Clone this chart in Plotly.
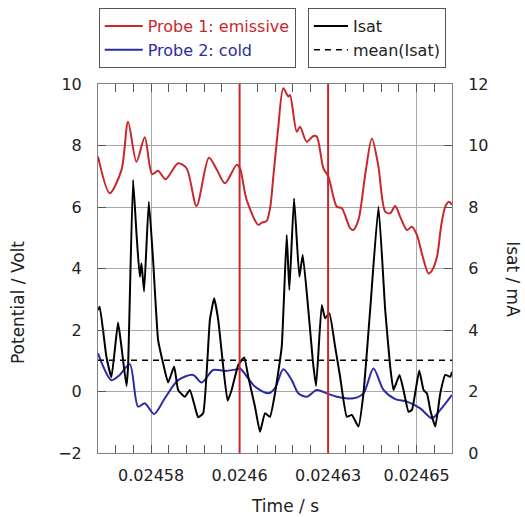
import plotly.graph_objects as go

# ---- data ----
t_red = [0.0245600, 0.02456331, 0.02456662, 0.02456849, 0.02457087, 0.02457321, 0.02457528,
         0.02457698, 0.02457907, 0.02458264, 0.02458501, 0.02458784, 0.02459132, 0.0245935,
         0.02459585, 0.02459916, 0.0246001, 0.02460199, 0.02460527, 0.02460624, 0.02460765,
         0.02460866, 0.02460952, 0.02461085, 0.02461235, 0.02461376, 0.02461424, 0.02461614,
         0.02461707, 0.02461897, 0.02462084, 0.0246218, 0.02462367, 0.02462508, 0.02462746,
         0.02462887, 0.02463122, 0.02463207, 0.02463357, 0.02463547, 0.02463736, 0.02463915,
         0.02464113, 0.02464254, 0.02464396, 0.02464537, 0.02464727, 0.02464868, 0.0246501,
         0.0246516, 0.02465338, 0.02465443, 0.02465576, 0.02465697, 0.0246581, 0.0246591, 0.0246600]
v_probe1 = [7.64, 6.45, 7.20, 8.77, 7.47, 8.27, 7.07, 7.18, 6.90, 7.42, 7.26, 6.03, 7.60, 7.23,
            6.77, 7.37, 7.26, 6.23, 5.42, 5.49, 5.55, 6.00, 6.98, 8.50, 9.86, 9.59, 9.64, 8.45,
            8.61, 8.12, 8.31, 8.29, 7.26, 6.99, 6.01, 5.96, 5.31, 5.25, 5.58, 7.04, 8.23, 7.37,
            5.85, 5.80, 6.03, 5.68, 5.25, 5.36, 5.09, 4.44, 3.84, 3.95, 4.38, 5.41, 6.01, 6.17, 6.07]

t_blue = [0.0245600, 0.02456379, 0.02456614, 0.02456897, 0.02457132, 0.02457321, 0.02457585,
          0.02457887, 0.02458264, 0.02458688, 0.02458926, 0.02459254, 0.02459585, 0.02459916,
          0.0246001, 0.02460434, 0.0246081, 0.02461, 0.02461235, 0.02461473, 0.02461659,
          0.02461897, 0.0246218, 0.02462463, 0.02462746, 0.02463216, 0.02463499, 0.02463782,
          0.02464065, 0.02464396, 0.02464727, 0.02465103, 0.02465434, 0.02465669, 0.0246600]
v_probe2 = [1.24, 0.37, 0.54, 0.89, -0.49, -0.38, -0.73, -0.22, 0.37, 0.54, 0.29, 0.70, 0.67,
            0.72, 0.75, 0.16, -0.06, 0.11, 0.72, 0.37, -0.06, -0.17, 0.05, -0.06, -0.17, -0.22,
            -0.06, 0.75, 0.05, -0.25, -0.33, -0.55, -0.87, -0.60, -0.11]

t_isat = [0.0245600, 0.02456048, 0.02456238, 0.02456379, 0.02456566, 0.02456662, 0.02456804,
          0.02456849, 0.0245699, 0.02457087, 0.0245718, 0.02457228, 0.02457302, 0.02457435,
          0.02457556, 0.02457698, 0.02457839, 0.02457981, 0.02458151, 0.02458264, 0.02458453,
          0.02458595, 0.02458736, 0.0245883, 0.02458971, 0.02459161, 0.02459282, 0.02459396,
          0.02459537, 0.02459662, 0.02459775, 0.02459962, 0.02460131, 0.02460244, 0.02460434,
          0.02460576, 0.02460717, 0.02460858, 0.02461, 0.0246119, 0.02461331, 0.02461405,
          0.02461538, 0.02461688, 0.02461784, 0.02461942, 0.02462067, 0.0246216, 0.02462321,
          0.02462415, 0.02462537, 0.02462698, 0.02462839, 0.02463029, 0.0246317, 0.02463357,
          0.02463499, 0.02463688, 0.02463923, 0.02464113, 0.02464254, 0.02464348, 0.02464517,
          0.0246463, 0.02464772, 0.02464868, 0.02465075, 0.02465196, 0.02465293, 0.02465386,
          0.02465528, 0.02465669, 0.0246581, 0.02465952, 0.0246600]
i_isat = [4.65, 4.76, 3.13, 2.47, 4.24, 3.46, 2.18, 2.81, 8.88, 7.14, 5.73, 6.17, 5.25, 8.17,
          6.28, 3.67, 2.92, 2.29, 2.81, 2.05, 1.83, 2.05, 1.51, 1.16, 1.29, 4.33, 5.03, 4.33,
          2.81, 1.70, 2.05, 2.86, 3.11, 2.48, 1.51, 0.69, 1.29, 1.18, 1.94, 3.46, 7.09, 5.30,
          8.28, 5.73, 6.44, 4.65, 3.02, 2.18, 4.81, 4.38, 4.54, 3.46, 2.48, 1.18, 1.24, 0.86,
          1.94, 4.65, 8.01, 4.65, 2.81, 2.05, 2.54, 2.05, 1.34, 1.40, 2.68, 2.05, 1.94, 1.40,
          0.86, 1.94, 2.54, 2.48, 2.64]

mean_isat = 3.02
marker_times = [0.0246, 0.024625]
x_tickvals = [0.024575, 0.0246, 0.024625, 0.02465]
x_ticktext = ["0.02458", "0.0246", "0.02463", "0.02465"]
x_range = [0.02456, 0.02466]
y_left_range = [-2, 10]
y_right_range = [0, 12]

RED = "#c8282d"
BLUE = "#2b2ba5"
FONT = "DejaVu Sans"

fig = go.Figure()
fig.add_trace(go.Scatter(x=t_red, y=v_probe1, mode="lines",
                         name="<span style='color:%s'>Probe 1: emissive</span>" % RED,
                         line=dict(color=RED, width=2, shape="spline", smoothing=0.8),
                         legend="legend"))
fig.add_trace(go.Scatter(x=t_blue, y=v_probe2, mode="lines",
                         name="<span style='color:%s'>Probe 2: cold</span>" % BLUE,
                         line=dict(color=BLUE, width=2, shape="spline", smoothing=0.8),
                         legend="legend"))
fig.add_trace(go.Scatter(x=t_isat, y=i_isat, mode="lines", name="Isat", yaxis="y2",
                         line=dict(color="black", width=2, shape="spline", smoothing=0.4),
                         legend="legend2"))
fig.add_trace(go.Scatter(x=x_range, y=[mean_isat, mean_isat], mode="lines",
                         name="mean(Isat)", yaxis="y2",
                         line=dict(color="black", width=1.5, dash="6px,5px"),
                         legend="legend2"))

for tm in marker_times:
    fig.add_shape(type="line", xref="x", yref="paper", x0=tm, x1=tm, y0=0, y1=1,
                  line=dict(color=RED, width=2))

axis_common = dict(showline=True, linecolor="#808080", linewidth=1,
                   tickfont=dict(family=FONT, size=16, color="#222"),
                   zeroline=False, automargin=False)

fig.update_layout(
    width=525, height=517,
    margin=dict(l=98, r=73, t=84, b=64, autoexpand=False),
    plot_bgcolor="white", paper_bgcolor="white",
    font=dict(family=FONT, size=16, color="#222"),
    xaxis=dict(range=x_range, tickmode="array", tickvals=x_tickvals, ticktext=x_ticktext,
               ticks="inside", ticklen=8, tickcolor="#555", mirror="allticks",
               showgrid=True, gridcolor="#a8a8a8", gridwidth=1,
               ticklabelstandoff=8,
               minor=dict(dtick=5e-6, tick0=0.02456, ticks="inside", ticklen=4,
                          tickcolor="#555", showgrid=False),
               **axis_common),
    yaxis=dict(range=y_left_range, dtick=2, ticks="inside", ticklen=8, tickcolor="#555",
               mirror=True, showgrid=True, gridcolor="#a8a8a8", gridwidth=1,
               ticklabelstandoff=12, **axis_common),
    yaxis2=dict(range=y_right_range, dtick=2, overlaying="y", side="right",
                ticks="inside", ticklen=8, tickcolor="#555", showgrid=False,
                ticklabelstandoff=12, **axis_common),
    legend=dict(x=0.002, y=1.206, xanchor="left", yanchor="top",
                bordercolor="#555", borderwidth=1, bgcolor="white", itemwidth=38,
                font=dict(family=FONT, size=16), tracegroupgap=0),
    legend2=dict(x=0.593, y=1.206, xanchor="left", yanchor="top",
                 bordercolor="#555", borderwidth=1, bgcolor="white", itemwidth=34,
                 font=dict(family=FONT, size=16, color="#222"), tracegroupgap=0),
    showlegend=True,
    annotations=[
        dict(text="Potential / Volt", xref="paper", yref="paper", x=-0.226, y=0.409,
             textangle=-90, showarrow=False, xanchor="center", yanchor="middle",
             font=dict(family=FONT, size=17, color="#222")),
        dict(text="Isat / mA", xref="paper", yref="paper", x=1.172, y=0.4715,
             textangle=90, showarrow=False, xanchor="center", yanchor="middle",
             font=dict(family=FONT, size=17, color="#222")),
        dict(text="Time / s", xref="paper", yref="paper", x=0.528, y=-0.1436,
             showarrow=False, xanchor="center", yanchor="middle",
             font=dict(family=FONT, size=17, color="#222")),
    ],
)

fig.write_html("out.html",
               config={"displayModeBar": False},
               post_script="document.body.style.margin='0';"
                           "document.body.style.overflow='hidden';")
